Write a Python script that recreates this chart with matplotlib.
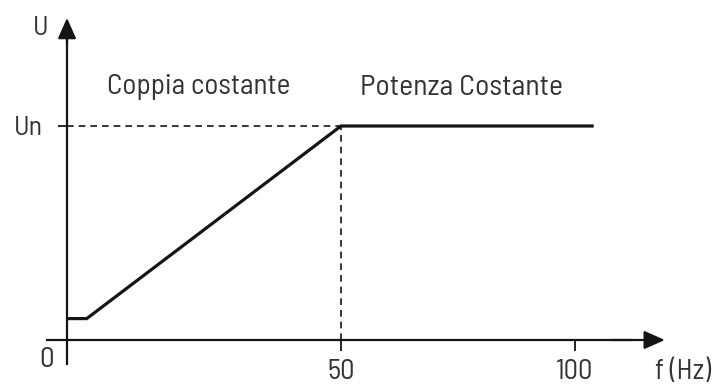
import numpy as np
import matplotlib
matplotlib.use("Agg")
import matplotlib.pyplot as plt

# V/f characteristic of an inverter-driven motor
f_points = [0, 3.6, 50, 104]          # Hz
u_points = [0.10, 0.10, 1.0, 1.0]     # U / Un
f_nominal = 50
u_nominal = 1.0
x_ticks = [50, 100]
x_tick_labels = ["50", "100"]
y_ticks = [u_nominal]
y_tick_labels = ["Un"]
region_labels = ["Coppia costante", "Potenza Costante"]

plt.rcParams['font.family'] = ['Barlow Semi Condensed', 'DejaVu Sans']
TXT = '#333333'
INK = '#151515'


# schematic frequency axis: the constant-torque range is drawn wider
def fwd(f):
    f = np.asarray(f, dtype=float)
    return np.where(f <= 50, f * 274 / 50, 274 + (f - 50) * 234 / 50)


def inv(t):
    t = np.asarray(t, dtype=float)
    return np.where(t <= 274, t * 50 / 274, 50 + (t - 274) * 50 / 234)


fig = plt.figure(figsize=(7.2, 3.87), dpi=100)
ax = fig.add_axes([0, 0, 1, 1])
ax.set_xscale('function', functions=(fwd, inv))
ax.set_xlim(float(inv(-67)), float(inv(653)))
ax.set_ylim(-47 / 214, 340 / 214)

# axes through the origin, with arrow heads
for side in ('top', 'right'):
    ax.spines[side].set_visible(False)
ax.spines['left'].set_position(('data', 0))
ax.spines['bottom'].set_position(('data', 0))
ax.spines['left'].set_bounds(-0.112, 1.42)
ax.spines['bottom'].set_bounds(-3.65, 112)
for side in ('left', 'bottom'):
    ax.spines[side].set_linewidth(1.6)
    ax.spines[side].set_color(INK)

arrow = dict(arrowstyle='-|>,head_length=0.45,head_width=0.2', mutation_scale=28,
             color=INK, lw=1.6, shrinkA=0, shrinkB=0)
ax.annotate('', xy=(0, 1.505), xytext=(0, 1.38), arrowprops=arrow)
ax.annotate('', xy=(119.2, 0), xytext=(108, 0), arrowprops=arrow)

# ticks
ax.set_xticks(x_ticks, x_tick_labels)
ax.set_yticks(y_ticks, y_tick_labels)
ax.minorticks_off()
ax.tick_params(axis='x', direction='out', length=8, width=1.3, color=INK,
               pad=6, labelsize=20.5, labelcolor=TXT)
ax.tick_params(axis='y', direction='out', length=6.5, width=1.3, color=INK,
               pad=11, labelsize=20, labelcolor=TXT)

# nominal point guides
ax.plot([0, f_nominal], [u_nominal, u_nominal], color=INK, lw=1.2,
        dashes=(4, 3))
ax.plot([f_nominal, f_nominal], [0, u_nominal], color=INK, lw=1.2,
        dashes=(4, 3))

# characteristic
ax.plot(f_points, u_points, color=INK, lw=2.3, solid_capstyle='butt',
        solid_joinstyle='miter')


# labels
def px(x, y):
    return x / 720, 1 - y / 387


ax.text(*px(41, 28), "U", transform=ax.transAxes, ha='center', va='center',
        fontsize=20, color=TXT)
ax.text(*px(47, 360), "0", transform=ax.transAxes, ha='center', va='center',
        fontsize=21, color=TXT)
ax.text(*px(655, 372), "f (Hz)", transform=ax.transAxes, ha='left',
        va='center', fontsize=20.5, color=TXT)
ax.text(*px(107, 94), region_labels[0], transform=ax.transAxes, ha='left',
        va='baseline', fontsize=21, color=TXT)
ax.text(*px(360, 95), region_labels[1], transform=ax.transAxes, ha='left',
        va='baseline', fontsize=21.5, color=TXT)

fig.savefig("out.png", dpi=100)
